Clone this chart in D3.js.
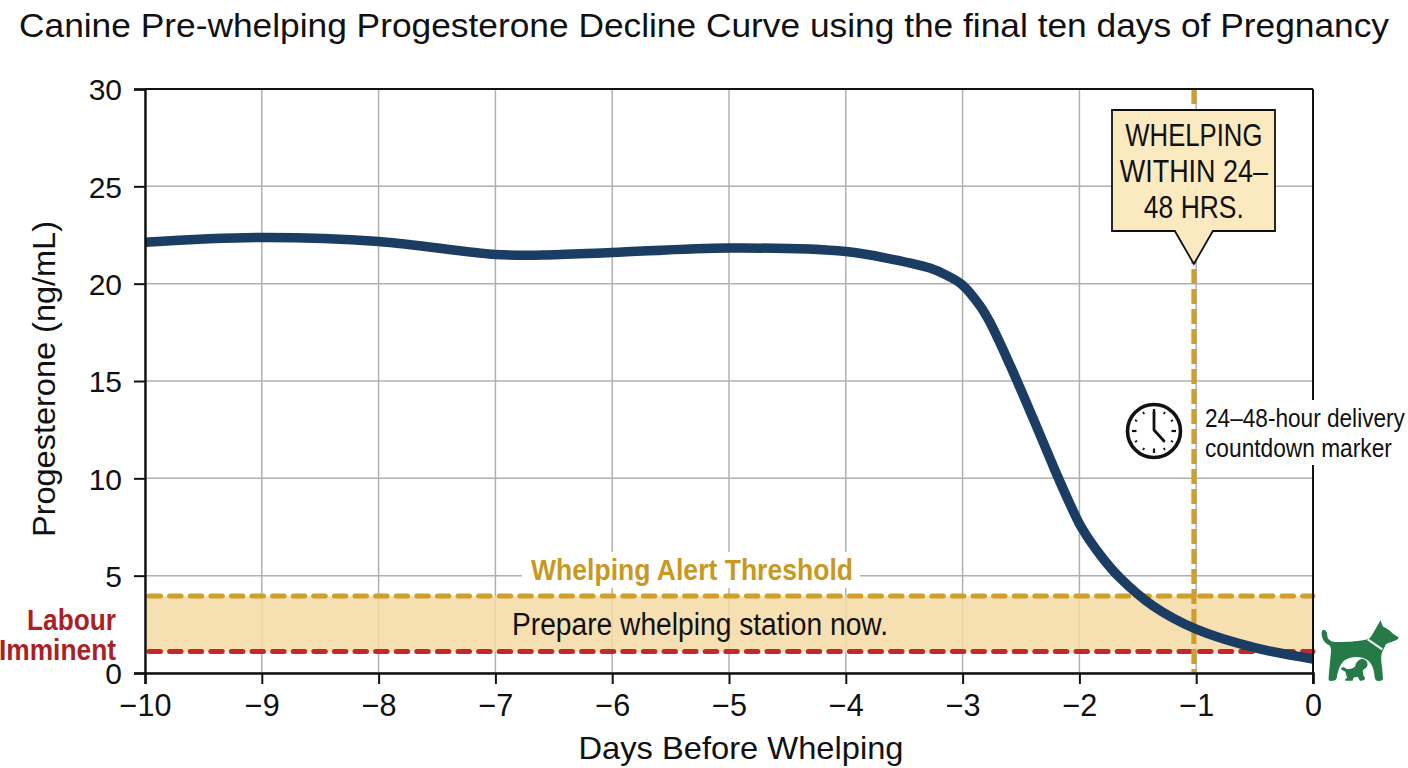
<!DOCTYPE html>
<html>
<head>
<meta charset="utf-8">
<script src="https://cdn.jsdelivr.net/npm/d3@7/dist/d3.min.js"></script>
<style>
html,body{margin:0;padding:0;background:#fff}
svg{display:block}
text{font-family:"Liberation Sans",Arial,sans-serif;fill:#111}
</style>
</head>
<body>
<svg id="chart" width="1408" height="768"></svg>
<script>
// Progesterone readings over the last ten days of gestation
const days = [-10,-9,-8,-7,-6.6,-6,-5,-4,-3.6,-3.28,-3.14,-3,-2.85,-2.765,-2.594,-2.366,-2.208,-2.09,-1.98,-1.82,-1.65,-1.37,-1,-0.5,0];
const progesterone = [22.13,22.37,22.17,21.5,21.47,21.6,21.83,21.65,21.25,20.8,20.44,19.93,18.85,18.0,15.82,12.65,10.4,8.8,7.45,6.05,4.87,3.45,2.25,1.3,0.72];
const xTicks = [-10,-9,-8,-7,-6,-5,-4,-3,-2,-1,0];
const yTicks = [0,5,10,15,20,25,30];
const alertLevel = 3.95;
const labourLevel = 1.1;
const countdownDay = -1.02;
const chartTitle = "Canine Pre-whelping Progesterone Decline Curve using the final ten days of Pregnancy";
const calloutLines = ["WHELPING","WITHIN 24–","48 HRS."];
const calloutWidths = [137,148,100];
const markerLines = ["24–48-hour delivery","countdown marker"];
const markerWidths = [200,187];

const plotLeft = 145, plotRight = 1313, plotTop = 89, plotBottom = 673;
const x = d3.scaleLinear().domain([-10,0]).range([plotLeft,plotRight]);
const y = d3.scaleLinear().domain([0,30]).range([plotBottom,plotTop]);
const svg = d3.select("#chart");

const gold = "#cf9f28", red = "#c5282a", navy = "#1c3d63", green = "#257a48";

// Title
svg.append("text").attr("x",704).attr("y",37).attr("text-anchor","middle")
  .attr("font-size",32.5).attr("textLength",1370).attr("lengthAdjust","spacingAndGlyphs").text(chartTitle);

// Gridlines
svg.append("g").selectAll("line").data(xTicks).join("line")
  .attr("x1",d=>x(d)).attr("x2",d=>x(d)).attr("y1",plotTop).attr("y2",plotBottom)
  .attr("stroke","#b0b0b0").attr("stroke-width",1.5);
svg.append("g").selectAll("line").data(yTicks).join("line")
  .attr("x1",plotLeft).attr("x2",plotRight).attr("y1",d=>y(d)).attr("y2",d=>y(d))
  .attr("stroke","#b0b0b0").attr("stroke-width",1.5);

// Alert band between the two thresholds
svg.append("rect").attr("x",plotLeft).attr("width",plotRight-plotLeft)
  .attr("y",y(alertLevel)).attr("height",y(labourLevel)-y(alertLevel))
  .attr("fill","#f5d9a3").attr("fill-opacity",0.85);

// Threshold lines
const dash = (sel,level,color)=>sel.append("line")
  .attr("x1",plotLeft+4).attr("x2",plotRight).attr("y1",y(level)).attr("y2",y(level))
  .attr("stroke",color).attr("stroke-width",5).attr("stroke-linecap","round")
  .attr("stroke-dasharray","11.5 9.1");
dash(svg,alertLevel,gold);
dash(svg,labourLevel,red);

// Countdown marker
svg.append("line").attr("x1",x(countdownDay)).attr("x2",x(countdownDay)).attr("y1",plotTop).attr("y2",plotBottom)
  .attr("stroke",gold).attr("stroke-width",5).attr("stroke-dasharray","15 5");

// Progesterone curve
const line = d3.line().x((d,i)=>x(days[i])).y(d=>y(d)).curve(d3.curveCatmullRom.alpha(0.5));
svg.append("path").attr("d",line(progesterone)).attr("fill","none")
  .attr("stroke",navy).attr("stroke-width",9.5);

// Axes
const xAxis = d3.axisBottom(x).tickValues(xTicks).tickSize(11).tickPadding(10)
  .tickFormat(d=>d<0?"−"+Math.abs(d):"0");
const yAxis = d3.axisLeft(y).tickValues(yTicks).tickSize(11).tickPadding(12);
const gx = svg.append("g").attr("transform",`translate(0,${plotBottom})`).call(xAxis);
const gy = svg.append("g").attr("transform",`translate(${plotLeft},0)`).call(yAxis);
[gx,gy].forEach(g=>{
  g.selectAll("text").attr("font-size",30).attr("font-family","Liberation Sans").attr("fill","#111");
  g.selectAll("line").attr("stroke","#111").attr("stroke-width",2);
  g.select(".domain").attr("stroke","#111").attr("stroke-width",2.4);
});
gx.selectAll("text").attr("font-size",30.6);
gy.selectAll("text").attr("dy","0.36em");

// Frame top and right
svg.append("line").attr("x1",plotLeft).attr("x2",plotRight).attr("y1",plotTop).attr("y2",plotTop).attr("stroke","#111").attr("stroke-width",2);
svg.append("line").attr("x1",plotRight).attr("x2",plotRight).attr("y1",plotTop).attr("y2",plotBottom+11).attr("stroke","#111").attr("stroke-width",2);

// Axis titles
svg.append("text").attr("x",741).attr("y",759).attr("text-anchor","middle").attr("font-size",32)
  .attr("textLength",325).attr("lengthAdjust","spacingAndGlyphs").text("Days Before Whelping");
svg.append("text").attr("transform","translate(55,379) rotate(-90)").attr("text-anchor","middle").attr("font-size",32)
  .attr("textLength",316).attr("lengthAdjust","spacingAndGlyphs").text("Progesterone (ng/mL)");

// Threshold labels
svg.append("rect").attr("x",522).attr("y",552).attr("width",338).attr("height",36).attr("fill","#fff");
svg.append("text").attr("x",692).attr("y",580).attr("text-anchor","middle").attr("font-size",30).attr("font-weight","bold")
  .style("fill","#c9981f").attr("textLength",322).attr("lengthAdjust","spacingAndGlyphs").text("Whelping Alert Threshold");
svg.append("text").attr("x",700).attr("y",635).attr("text-anchor","middle").attr("font-size",31)
  .attr("textLength",376).attr("lengthAdjust","spacingAndGlyphs").text("Prepare whelping station now.");
svg.append("text").attr("x",116).attr("y",630).attr("text-anchor","end").attr("font-size",29).attr("font-weight","bold")
  .style("fill","#ab1f25").attr("textLength",89).attr("lengthAdjust","spacingAndGlyphs").text("Labour");
svg.append("text").attr("x",116).attr("y",660).attr("text-anchor","end").attr("font-size",29).attr("font-weight","bold")
  .style("fill","#ab1f25").attr("textLength",117).attr("lengthAdjust","spacingAndGlyphs").text("Imminent");

// Callout box with pointer onto the marker line
const cx = x(countdownDay);
svg.append("path")
  .attr("d",`M1112,110 H1275 V231 H${cx+19} L${cx},264 L${cx-19},231 H1112 Z`)
  .attr("fill","#fbe9c0").attr("stroke","#111").attr("stroke-width",1.8).attr("stroke-linejoin","miter");
svg.append("g").selectAll("text").data(calloutLines).join("text")
  .attr("x",cx).attr("y",(d,i)=>146+i*36).attr("text-anchor","middle").attr("font-size",31)
  .attr("textLength",(d,i)=>calloutWidths[i]).attr("lengthAdjust","spacingAndGlyphs").text(d=>d);

// Marker note on a white ground that interrupts the frame
svg.append("rect").attr("x",1199).attr("y",400).attr("width",209).attr("height",65).attr("fill","#fff");
svg.append("g").selectAll("text").data(markerLines).join("text")
  .attr("font-size",26).text(d=>d)
  .attr("transform",function(d,i){
    const sx = markerWidths[i]/this.getComputedTextLength();
    return `translate(1205,${427+i*30}) scale(${sx},1)`;
  });

// Clock icon
const clock = svg.append("g").attr("transform","translate(1154,431)");
clock.append("circle").attr("r",26.5).attr("fill","#fff").attr("stroke","#111").attr("stroke-width",3.6);
clock.selectAll("line.tick").data(d3.range(12)).join("line").attr("class","tick")
  .attr("x1",0).attr("x2",0).attr("y1",-22).attr("y2",d=>d%3===0?-17.5:-19.5)
  .attr("transform",d=>`rotate(${d*30})`).attr("stroke","#111").attr("stroke-width",d=>d%3===0?2.2:1.8);
clock.append("path").attr("d","M0,-19 V-1 L10,10").attr("fill","none").attr("stroke","#111").attr("stroke-width",2.8)
  .attr("stroke-linejoin","round").attr("stroke-linecap","round");

// Dog and puppy icon
const dog = svg.append("g").attr("transform","translate(1310,610) scale(0.3333)");
dog.append("path").attr("fill",green).attr("d",
 "M43,60 C50,62 52,70 52,78 C53,88 62,95 75,96 C105,97 145,95 172,88 L180,84 C190,70 200,50 212,30 C214,38 216,44 220,50 C232,55 245,65 250,72 L266,82 C266,88 258,92 250,94 C240,98 232,100 228,103 L218,123 C212,135 213,150 216,170 L219,205 C219,212 212,213 206,213 C198,213 195,208 194,200 C192,180 188,162 172,150 C155,138 125,138 105,150 C90,162 84,180 80,205 C78,212 70,213 62,213 C56,213 55,208 56,200 L62,135 C64,122 64,112 58,106 C45,100 36,88 35,72 C35,62 38,58 43,60 Z");
dog.append("line").attr("x1",173).attr("y1",88).attr("x2",217).attr("y2",118).attr("stroke","#fff").attr("stroke-width",6);
dog.append("path").attr("fill",green).attr("d",
 "M93,175 C97,170 104,172 110,177 C120,178 128,175 135,170 C138,155 148,147 158,147 C168,148 175,158 172,168 C168,176 160,178 158,182 L160,195 L165,205 C165,212 155,213 150,212 L143,200 L130,203 L128,212 L106,212 C104,208 108,205 112,203 C108,195 108,190 106,185 C100,183 94,180 93,175 Z");
</script>
</body>
</html>
